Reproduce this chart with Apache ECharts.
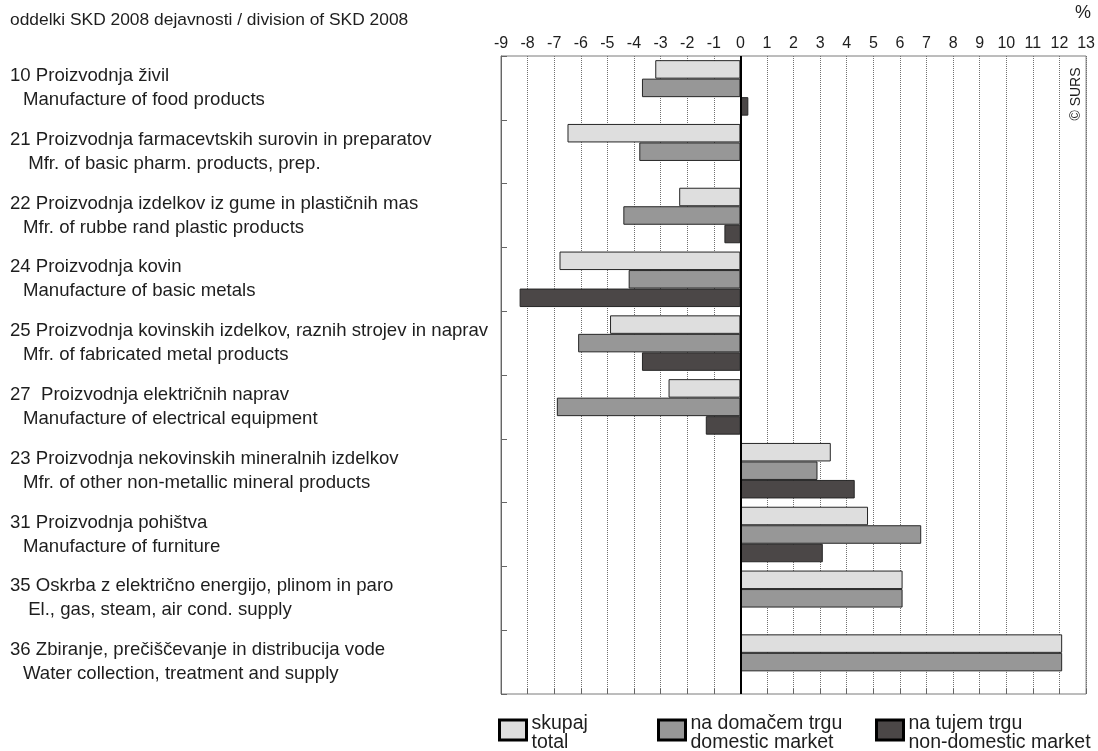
<!DOCTYPE html>
<html>
<head>
<meta charset="utf-8">
<script src="https://cdn.jsdelivr.net/npm/echarts@6/dist/echarts.min.js"></script>
<style>
html,body{margin:0;padding:0;background:#fff;}
#chart{width:1098px;height:751px;}
</style>
</head>
<body>
<div id="chart"></div>
<script>
var categoriesSl = [
  "10 Proizvodnja živil",
  "21 Proizvodnja farmacevtskih surovin in preparatov",
  "22 Proizvodnja izdelkov iz gume in plastičnih mas",
  "24 Proizvodnja kovin",
  "25 Proizvodnja kovinskih izdelkov, raznih strojev in naprav",
  "27  Proizvodnja električnih naprav",
  "23 Proizvodnja nekovinskih mineralnih izdelkov",
  "31 Proizvodnja pohištva",
  "35 Oskrba z električno energijo, plinom in paro",
  "36 Zbiranje, prečiščevanje in distribucija vode"
];
var categoriesEn = [
  "Manufacture of food products",
  " Mfr. of basic pharm. products, prep.",
  "Mfr. of rubbe rand plastic products",
  "Manufacture of basic metals",
  "Mfr. of fabricated metal products",
  "Manufacture of electrical equipment",
  "Mfr. of other non-metallic mineral products",
  "Manufacture of furniture",
  " El., gas, steam, air cond. supply",
  "Water collection, treatment and supply"
];
var seriesNamesSl = ["skupaj", "na domačem trgu", "na tujem trgu"];
var seriesNamesEn = ["total", "domestic market", "non-domestic market"];
var totalValues = [-3.2, -6.5, -2.3, -6.8, -4.9, -2.7, 3.4, 4.8, 6.1, 12.1];
var domesticValues = [-3.7, -3.8, -4.4, -4.2, -6.1, -6.9, 2.9, 6.8, 6.1, 12.1];
var nonDomesticValues = [0.3, "-", -0.6, -8.3, -3.7, -1.3, 4.3, 3.1, "-", "-"];
var axisMin = -9, axisMax = 13, axisInterval = 1;
var titleText = "oddelki SKD 2008 dejavnosti / division of SKD 2008";
var unitText = "%";
var sourceText = "© SURS";

var FONT = "'Liberation Sans', Arial, sans-serif";
var TXT = "#1e1e1e";
var colors = ["#dedede", "#979797", "#4b4747"];

var chart = echarts.init(document.getElementById('chart'), null, {renderer: 'canvas'});

function legendFor(i, left) {
  return {
    left: left, top: 708, padding: 0,
    data: [seriesNamesSl[i]],
    icon: 'rect',
    itemWidth: 27, itemHeight: 20,
    itemStyle: {borderWidth: 3, borderColor: '#000'},
    selectedMode: false,
    textStyle: {
      fontFamily: FONT, fontSize: 19.5, lineHeight: 19, color: TXT,
      rich: {
        s: {fontSize: 1, lineHeight: 6},
        t: {fontFamily: FONT, fontSize: 19.5, lineHeight: 19, color: TXT}
      }
    },
    formatter: function (name) {
      var k = seriesNamesSl.indexOf(name);
      return '{s| }\n{t|' + name + '}\n{t|' + seriesNamesEn[k] + '}';
    }
  };
}

var seriesData = [totalValues, domesticValues, nonDomesticValues];
var series = seriesData.map(function (d, i) {
  var s = {
    name: seriesNamesSl[i],
    type: 'bar',
    data: d,
    barGap: '0%',
    barCategoryGap: '13%',
    itemStyle: {color: colors[i], borderColor: '#262626', borderWidth: 1},
    silent: true,
    animation: false
  };
  if (i === 0) {
    s.markLine = {
      silent: true, symbol: 'none', animation: false,
      label: {show: false},
      lineStyle: {color: '#000', width: 2, type: 'solid'},
      data: [{xAxis: 0}]
    };
  }
  return s;
});

var option = {
  animation: false,
  backgroundColor: '#fff',
  title: {
    text: titleText, left: 5, top: 7,
    textStyle: {fontFamily: FONT, fontSize: 17.4, fontWeight: 'normal', color: TXT}
  },
  legend: [legendFor(0, 498), legendFor(1, 657), legendFor(2, 875)],
  grid: {
    left: 501, top: 56, width: 587, height: 638,
    show: true, borderColor: '#7a7a7a', borderWidth: 1,
    containLabel: false
  },
  xAxis: [{
    type: 'value', position: 'top',
    min: axisMin, max: axisMax, interval: axisInterval,
    axisLine: {show: false},
    axisTick: {show: false},
    axisLabel: {fontFamily: FONT, fontSize: 16, color: TXT, margin: 4},
    splitLine: {show: true, lineStyle: {color: '#707070', type: [1, 1], width: 1}}
  }, {
    type: 'value', position: 'bottom',
    min: axisMin, max: axisMax, interval: axisInterval,
    axisLine: {show: false},
    axisTick: {show: true, inside: true, length: 5, lineStyle: {color: '#666'}},
    axisLabel: {show: false},
    splitLine: {show: false}
  }],
  yAxis: {
    type: 'category', inverse: true, data: categoriesSl,
    axisLine: {show: true, onZero: false, lineStyle: {color: '#666', width: 1}},
    axisTick: {show: true, inside: true, length: 6, lineStyle: {color: '#666'}},
    axisLabel: {
      align: 'left', margin: 491,
      formatter: function (v, idx) {
        return '{a|' + v + '}\n{b|' + categoriesEn[idx] + '}';
      },
      rich: {
        a: {fontFamily: FONT, fontSize: 18.6, lineHeight: 24, color: TXT},
        b: {fontFamily: FONT, fontSize: 18.6, lineHeight: 24, color: TXT, padding: [0, 0, 0, 13]}
      }
    },
    splitLine: {show: false}
  },
  graphic: [
    {type: 'text', x: 1083, y: 13, style: {text: unitText, fontFamily: FONT, fontSize: 18, fill: TXT, align: 'center', verticalAlign: 'middle'}},
    {type: 'text', x: 1076, y: 94, rotation: Math.PI / 2, style: {text: sourceText, fontFamily: FONT, fontSize: 14, fill: TXT, align: 'center', verticalAlign: 'middle'}}
  ],
  series: series
};
chart.setOption(option);
</script>
</body>
</html>
